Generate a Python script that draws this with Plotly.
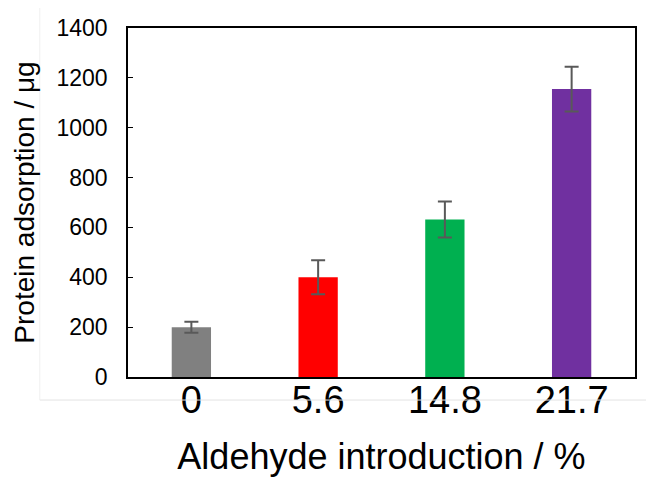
import plotly.graph_objects as go

categories = ["0", "5.6", "14.8", "21.7"]
values = [200, 400, 632, 1155]
errors = [22, 68, 72, 90]
colors = ["#808080", "#FF0000", "#00B050", "#7030A0"]
y_ticks = [0, 200, 400, 600, 800, 1000, 1200, 1400]

fig = go.Figure()
fig.add_trace(go.Bar(
    x=categories, y=values,
    marker=dict(color=colors, line=dict(width=0)),
    error_y=dict(type="data", array=errors, visible=True,
                 color="#595959", thickness=2, width=7),
    width=0.31,
))

# page body has an 8px default margin; compensate so the plot area lands at x 128-635, y 28-377
fig.update_layout(
    width=646, height=469,
    margin=dict(l=120, r=19, t=20, b=100),
    paper_bgcolor="white", plot_bgcolor="white",
    font=dict(family="Liberation Sans, Arial, sans-serif", color="black"),
    showlegend=False,
    xaxis=dict(
        automargin=False,
        showline=True, linecolor="black", linewidth=1.5, mirror=True,
        ticks="", tickfont=dict(size=38), ticklabelstandoff=-11,
        title=dict(text="Aldehyde introduction / %", font=dict(size=36), standoff=43),
        showgrid=False,
    ),
    yaxis=dict(
        automargin=False,
        range=[0, 1400], tickvals=y_ticks,
        showline=True, linecolor="black", linewidth=1.5, mirror=True,
        ticks="inside", ticklen=5, tickcolor="black", tickwidth=1,
        tickfont=dict(size=23), ticklabelstandoff=14,
        title=dict(text="Protein adsorption / μg", font=dict(size=28), standoff=14),
        showgrid=False, zeroline=False,
    ),
    shapes=[
        dict(type="line", xref="paper", yref="paper",
             x0=-0.174, x1=1.04, y0=-0.066, y1=-0.066,
             line=dict(color="#e3e3e3", width=1)),
        dict(type="line", xref="paper", yref="paper",
             x0=-0.174, x1=-0.174, y0=-0.066, y1=1.08,
             line=dict(color="#f0f0f0", width=1)),
    ],
)

fig.write_html("out.html")
